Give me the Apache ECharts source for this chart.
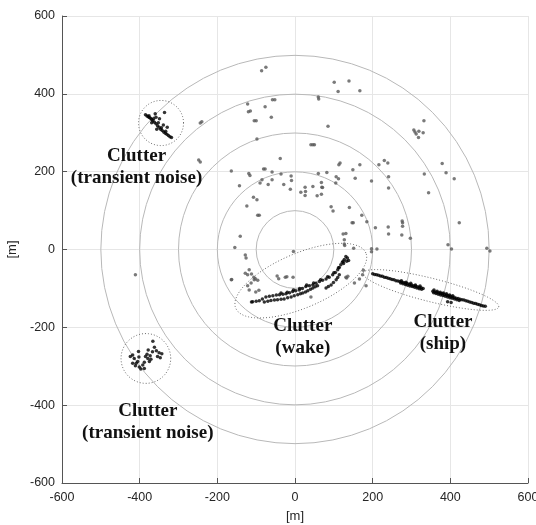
<!DOCTYPE html>
<html lang="en">
<head>
<meta charset="UTF-8">
<title>Clutter</title>
<script src="https://cdn.jsdelivr.net/npm/echarts@6/dist/echarts.min.js"></script>
<style>
  body { margin: 0; background: #fff; }
  #main { width: 536px; height: 525px; }
</style>
</head>
<body>
<div id="main"></div>
<script>
// axis ticks
var ticks = [-600, -400, -200, 0, 200, 400, 600];
// range rings [m]
var ringRadii = [100, 200, 300, 400, 500];

// scattered detections (gray)
var scatterGray = [
  [-86,459],[-75,468],[-58,385],[-52,385],[-122,374],[-115,356],[-120,354],[-77,367],[-61,340],
  [-105,331],[-100,331],[-98,284],[-244,325],[-240,328],[-244,225],[-248,230],
  [-38,234],[-164,202],[-119,195],[-116,190],[-81,207],[-77,207],[-59,199],[-36,194],[-10,189],
  [-9,177],[41,269],[46,269],[50,269],[-85,179],[-90,171],[-59,179],[-69,167],[-29,167],[-12,155],
  [-143,164],[-107,134],[-98,128],[-124,112],[-96,88],[-92,88],[26,160],[15,147],[27,149],[26,139],
  [-141,34],[-155,5],[113,218],[116,222],[167,218],[149,205],[216,218],[230,229],[239,222],
  [60,195],[82,198],[106,187],[112,182],[155,183],[197,176],[241,187],[241,158],[105,171],
  [68,172],[69,160],[71,159],[46,162],[57,138],[68,142],[93,110],[98,99],[140,108],[172,88],
  [185,71],[147,69],[150,69],[207,56],[240,58],[276,73],[277,69],[277,60],[241,40],[275,37],
  [297,29],[124,40],[131,41],[127,25],[127,14],[128,10],[151,3],[197,2],[211,1],[197,-6],[-4,-5],
  [101,430],[139,433],[111,406],[167,408],[60,392],[61,387],[85,317],[332,331],[306,307],
  [309,302],[312,297],[319,304],[330,300],[318,288],[379,221],[333,194],[389,197],[410,182],
  [344,146],[423,69],[394,12],[403,1],[494,3],[502,-4],
  [-128,-14],[-126,-22],[-118,-52],[-128,-61],[-112,-63],[-106,-71],[-102,-75],[-105,-78],
  [-96,-79],[-163,-77],[-113,-86],[-118,-104],[-93,-105],[-122,-65],[-122,-93],[-101,-109],
  [-46,-68],[-42,-75],[-25,-71],[-21,-70],[-5,-71],[41,-122],[133,-73],[174,-65],[153,-86],
  [166,-76],[183,-93],[176,-53],[131,-71],[136,-69],[-411,-65],[-164,-78]
];

// clutter: transient noise, upper left
var noiseUpper = [
  [-385,346],[-381,343],[-378,341],[-375,339],[-372,337],[-369,334],[-366,331],[-362,327],
  [-358,323],[-354,318],[-350,314],[-346,309],[-342,306],[-338,302],[-334,299],[-330,296],
  [-326,293],[-322,290],[-318,288],[-360,349],[-336,352],[-349,336],[-369,326],[-356,309],
  [-339,320],[-329,314],[-358,340],[-376,344],[-364,336],[-352,326],[-344,313],[-333,304]
];

// clutter: transient noise, lower left
var noiseLower = [
  [-424,-275],[-418,-271],[-414,-280],[-409,-292],[-405,-288],[-403,-262],[-401,-302],[-397,-307],
  [-392,-297],[-388,-306],[-385,-275],[-381,-269],[-379,-280],[-378,-258],[-373,-273],[-371,-282],
  [-367,-263],[-366,-236],[-362,-251],[-357,-260],[-354,-275],[-350,-265],[-347,-278],[-343,-268],
  [-402,-276],[-388,-290],[-418,-292],[-411,-299],[-375,-288]
];

// clutter: wake
var wakePts = [
  [-112,-135],[-109,-134],[-100,-133],[-92,-132],[-84,-127],[-75,-122],[-66,-120],[-57,-119],
  [-48,-117],[-40,-116],[-31,-115],[-23,-114],[-14,-111],[-6,-108],[2,-106],[11,-104],[19,-100],
  [28,-95],[37,-93],[46,-91],[54,-87],[63,-82],[71,-79],[80,-76],[88,-71],[97,-65],[104,-59],
  [110,-52],[114,-46],[118,-39],[122,-33],[127,-26],[131,-18],[135,-22],[138,-28],[133,-30],
  [125,-36],[-36,-112],[-20,-110],[-4,-104],[12,-100],[30,-91],[48,-86],[66,-78],[84,-70],
  [100,-60],[112,-47],[124,-30],
  [-79,-135],[-70,-133],[-62,-131],[-53,-130],[-45,-129],[-36,-128],[-28,-127],[-19,-124],
  [-10,-122],[-2,-119],[7,-116],[14,-114],[20,-112],[27,-109],[33,-106],[40,-102],[46,-99],
  [52,-96],[58,-93],
  [80,-99],[86,-95],[93,-91],[99,-85],[106,-78],[110,-72],[114,-65]
];

// clutter: ship
var shipPts = [
  [200,-62],[205,-64],[210,-65],[215,-66],[220,-68],[225,-69],[230,-71],[235,-72],[240,-74],
  [245,-75],[250,-77],[255,-78],[260,-80],[265,-81],[270,-82],[275,-84],[280,-85],[285,-87],
  [290,-88],[295,-90],[300,-91],[305,-93],[310,-94],[315,-96],[320,-97],[325,-98],[330,-100],
  [355,-107],[360,-109],[365,-110],[370,-112],[375,-113],[380,-114],[385,-116],[390,-117],
  [395,-119],[400,-120],[405,-122],[410,-123],[415,-125],[420,-126],[425,-128],[430,-129],
  [435,-130],[440,-132],[445,-133],[450,-135],[455,-136],[460,-138],[465,-139],[470,-141],
  [475,-142],[480,-144],[485,-145],[490,-146],
  [272,-86],[278,-88],[284,-90],[290,-92],[296,-94],[302,-95],[308,-97],[314,-99],[320,-101],
  [326,-102],[274,-80],[286,-84],[298,-87],[310,-91],[322,-94],
  [357,-111],[363,-113],[369,-115],[375,-117],[381,-118],[387,-120],[393,-122],[399,-124],
  [405,-125],[411,-127],[417,-129],[423,-131],[358,-104],[366,-107],[374,-110],[382,-112],
  [390,-114],[398,-117],[406,-119],[393,-134],[402,-136]
];

// dotted outlines: [cx, cy, semi-major, semi-minor, angle deg]
var outlines = [
  [-345, 325, 58, 58, 0],
  [-384, -280, 64, 64, 0],
  [15, -80, 182, 70, 23],
  [350, -104, 180, 30, -14]
];

// annotation positions and texts
var labelPos = [[-408, 212], [-379, -444], [20, -226], [381, -215]];
var labelText = ['Clutter\n(transient noise)', 'Clutter\n(transient noise)', 'Clutter\n(wake)', 'Clutter\n(ship)'];

var myChart = echarts.init(document.getElementById('main'));

function axisCfg(isY) {
  return {
    type: 'value',
    min: -600, max: 600, interval: 200,
    name: '[m]',
    nameLocation: 'middle',
    nameGap: isY ? 38 : 27,
    nameTextStyle: { fontFamily: 'Arial, Liberation Sans', fontSize: 13, color: '#262626' },
    axisLine: { show: true, onZero: false, lineStyle: { color: '#555', width: 1 } },
    axisTick: { show: true, inside: true, length: 5, lineStyle: { color: '#555' } },
    axisLabel: { fontFamily: 'Arial, Liberation Sans', fontSize: 12.5, color: '#262626', margin: isY ? 7 : 8 },
    splitLine: { show: true, lineStyle: { color: '#e6e6e6', width: 1 } }
  };
}

var option = {
  animation: false,
  grid: { left: 62, right: 8, top: 16, bottom: 42, containLabel: false, outerBoundsMode: 'none' },
  xAxis: axisCfg(false),
  yAxis: axisCfg(true),
  series: [
    {
      type: 'custom',
      z: 1,
      silent: true,
      data: ringRadii.map(function (r) { return [r, 0]; }),
      renderItem: function (params, api) {
        var c = api.coord([0, 0]);
        var s = api.size([api.value(0), api.value(0)]);
        return {
          type: 'circle',
          shape: { cx: c[0], cy: c[1], r: s[0] },
          style: { fill: 'none', stroke: '#b8b8b8', lineWidth: 1 }
        };
      }
    },
    {
      type: 'scatter',
      z: 3,
      symbol: 'circle',
      symbolSize: 3.5,
      itemStyle: { color: '#595959' },
      data: scatterGray
    },
    {
      type: 'scatter',
      z: 4,
      symbol: 'circle',
      symbolSize: 3.5,
      itemStyle: { color: '#000' },
      data: noiseUpper.concat(noiseLower, wakePts, shipPts)
    },
    {
      type: 'custom',
      z: 5,
      silent: true,
      data: outlines,
      renderItem: function (params, api) {
        var cx = api.value(0), cy = api.value(1), a = api.value(2), b = api.value(3);
        var ang = api.value(4) * Math.PI / 180;
        var pts = [];
        for (var k = 0; k < 90; k++) {
          var t = k / 90 * Math.PI * 2;
          var ex = a * Math.cos(t), ey = b * Math.sin(t);
          pts.push(api.coord([cx + ex * Math.cos(ang) - ey * Math.sin(ang),
                              cy + ex * Math.sin(ang) + ey * Math.cos(ang)]));
        }
        return {
          type: 'polygon',
          shape: { points: pts },
          style: { fill: 'none', stroke: '#6a6a6a', lineWidth: 1, lineDash: [1, 2] }
        };
      }
    },
    {
      type: 'custom',
      z: 6,
      silent: true,
      data: labelPos,
      renderItem: function (params, api) {
        var c = api.coord([api.value(0), api.value(1)]);
        return {
          type: 'text',
          x: c[0], y: c[1],
          style: {
            text: labelText[params.dataIndex],
            font: 'bold 19px "Liberation Serif", "Times New Roman", serif',
            fill: '#111',
            align: 'center',
            verticalAlign: 'middle',
            lineHeight: 22
          }
        };
      }
    }
  ]
};
myChart.setOption(option);
</script>
</body>
</html>
